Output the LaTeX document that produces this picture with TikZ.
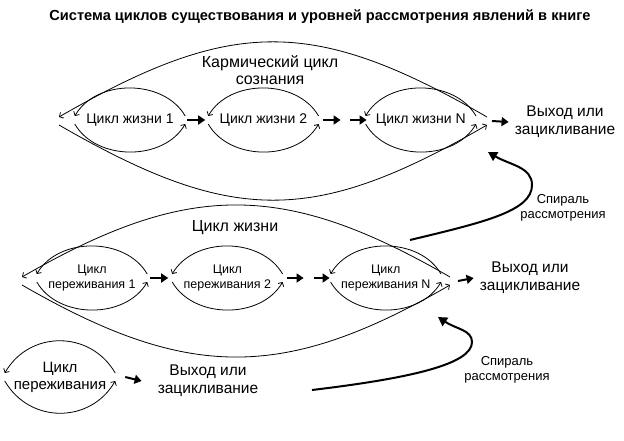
\documentclass[tikz,border=0pt]{standalone}
\usepackage{fontspec}
\setmainfont{Liberation Sans}
\usetikzlibrary{arrows.meta,positioning}

\tikzset{
  cyc/.style={inner sep=0pt, minimum width=110pt, align=center, font=\fontsize{14}{15.5}\selectfont},
  arc/.style={line width=0.8pt, -{Straight Barb[length=3pt,width=6.5pt]}},
  blk/.style={line width=2pt, -{Triangle[length=7pt,width=9pt]}},
  spiral/.style={line width=2pt, -{Triangle[length=9pt,width=10pt]}},
  exit/.style={align=center, inner sep=2pt, font=\fontsize{15.5}{18}\selectfont},
  lbl/.style={align=center, font=\fontsize{16}{17}\selectfont},
  spirlbl/.style={align=center, font=\fontsize{13}{15.5}\selectfont}
}

\begin{document}
\begin{tikzpicture}[x=1pt, y=-1pt]
    \useasboundingbox (0,0) rectangle (624,440);
    \node[font=\bfseries\fontsize{14.6}{18}\selectfont] (title) at (320,17) {Система циклов существования и уровней рассмотрения явлений в книге};

    % karmic cycle
    \node[cyc] (z1) at (130,120) {Цикл жизни 1};
    \node[cyc, right=23pt of z1] (z2) {Цикл жизни 2};
    \node[cyc, right=47pt of z2] (zN) {Цикл жизни N};
    \coordinate (kL) at (59,121);
    \coordinate (kR) at (487,121);
    \node[lbl] (karma) at (270,70) {Кармический цикл\\сознания};
    \node[exit] (ex1) at (565,122) {Выход или\\зацикливание};

    % life cycle
    \begin{scope}[cyc/.append style={font=\fontsize{12.5}{15}\selectfont}]
    \node[cyc] (p1) at (92,278) {Цикл\\переживания 1};
    \node[cyc, right=25pt of p1] (p2) {Цикл\\переживания 2};
    \node[cyc, right=48pt of p2] (pN) {Цикл\\переживания N};
    \end{scope}
    \coordinate (lL) at (22,281);
    \coordinate (lR) at (450,281);
    \node[lbl] (life) at (235,228) {Цикл жизни};
    \node[exit] (ex2) at (530,278) {Выход или\\зацикливание};

    % experience cycle
    \node[cyc, font=\fontsize{15}{17}\selectfont] (p0) at (60,377) {Цикл\\переживания};
    \node[exit] (ex0) at (208,381) {Выход или\\зацикливание};

    \foreach \c/\l in {z1/1, z2/1, zN/1, p1/1, p2/1, pN/1, p0/1.15} {
        \draw[arc] ([yshift=4pt]\c.east) to[out=120, in=60, looseness=\l] ([yshift=4pt]\c.west);
        \draw[arc] ([yshift=-4pt]\c.west) to[out=-60, in=-120, looseness=\l] ([yshift=-4pt]\c.east);
    }
    \draw[arc] ([yshift=4pt]kR) to[out=150, in=30, looseness=1.2] ([yshift=4pt]kL);
    \draw[arc] ([yshift=-4pt]kL) to[out=-30, in=-150, looseness=1.2] ([yshift=-4pt]kR);
    \draw[arc] ([yshift=4pt]lR) to[out=150, in=30, looseness=1.15] ([yshift=4pt]lL);
    \draw[arc] ([yshift=-4pt]lL) to[out=-30, in=-150, looseness=1.15] ([yshift=-4pt]lR);

    \draw[blk] ([xshift=2pt]z1.east) -- ([xshift=-3pt]z2.west);
    \draw[blk] ([xshift=4pt]z2.east) -- ++(18pt,0);
    \draw[blk] ([xshift=-16pt]zN.west) -- ([xshift=1pt]zN.west);
    \draw[blk] ([xshift=5pt]kR) -- ([xshift=-4pt]ex1.west);

    \draw[blk] ([xshift=3pt]p1.east) -- ([xshift=-4pt]p2.west);
    \draw[blk] ([xshift=4pt]p2.east) -- ++(17pt,0);
    \draw[blk] ([xshift=-17pt]pN.west) -- ([xshift=-1pt]pN.west);
    \draw[blk] ([xshift=8pt]lR) -- ([xshift=-4pt]ex2.west);

    \draw[blk] ([xshift=10pt]p0.east) -- ([xshift=-14pt]ex0.west);

    % spirals
    \coordinate (s1a) at (410,240);
    \coordinate (s1b) at (488,152);
    \coordinate (s2a) at (312,390);
    \coordinate (s2b) at (438,317);
    \draw[spiral] (s1a) .. controls +(75,-18) and +(0,26) .. ++(122,-55) .. controls +(0,-18) and +(22,13) .. (s1b);
    \draw[spiral] (s2a) .. controls +(100,-12) and +(0,22) .. ++(160,-48) .. controls +(0,-12) and +(18,12) .. (s2b);
    \node[spirlbl] (sl1) at (563,208) {Спираль\\рассмотрения};
    \node[spirlbl] (sl2) at (507,370) {Спираль\\рассмотрения};
\end{tikzpicture}
\end{document}
